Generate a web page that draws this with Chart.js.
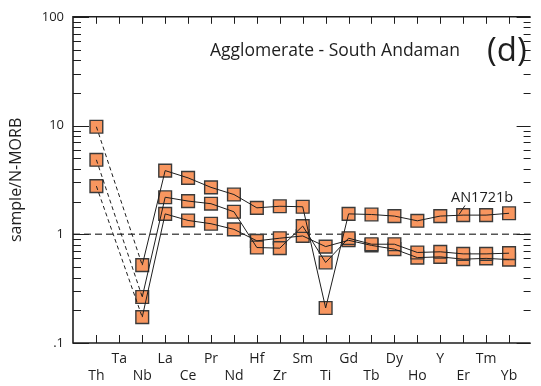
<!DOCTYPE html>
<html>
<head>
<meta charset="utf-8">
<title>Agglomerate - South Andaman</title>
<script src="https://cdn.jsdelivr.net/npm/chart.js@4.4.0/dist/chart.umd.min.js"></script>
<style>
    html, body { margin: 0; padding: 0; background: #fff; }
    #wrap { width: 541px; height: 386px; }
</style>
</head>
<body>
<div id="wrap"><canvas id="spider" width="541" height="386"></canvas></div>
<script>
// N-MORB normalised trace elements, in diagram order (Ta not analysed)
var elements = ['Th', 'Ta', 'Nb', 'La', 'Ce', 'Pr', 'Nd', 'Hf', 'Zr', 'Sm', 'Ti', 'Gd', 'Tb', 'Dy', 'Ho', 'Y', 'Er', 'Tm', 'Yb'];

var AN1721b = [9.75, null, 0.52, 3.85, 3.3, 2.7, 2.32, 1.75, 1.81, 1.79, 0.21, 1.54, 1.52, 1.47, 1.33, 1.47, 1.5, 1.5, 1.56];
var sampleB = [4.84, null, 0.265, 2.19, 2.02, 1.91, 1.61, 0.755, 0.745, 1.19, 0.55, 0.92, 0.81, 0.81, 0.68, 0.69, 0.66, 0.66, 0.67];
var sampleC = [2.77, null, 0.173, 1.54, 1.34, 1.25, 1.11, 0.87, 0.92, 0.965, 0.77, 0.88, 0.79, 0.73, 0.61, 0.62, 0.59, 0.6, 0.585];

var yTicks = [0.1, 1, 10, 100];
var yTickLabels = ['.1', '1', '10', '100'];

var FONT = '"Open Sans", "DejaVu Sans", sans-serif';
var INK = '#1e1e1e';

var series = [AN1721b, sampleB, sampleC];

function toPoints(vals) {
    return vals.map(function (v, i) {
        return { x: i, y: v };
    });
}

var datasets = [];
// connecting lines, drawn above the markers; the jump over the missing Ta is dashed
series.forEach(function (vals) {
    datasets.push({
        data: toPoints(vals),
        showLine: true,
        spanGaps: true,
        borderColor: INK,
        borderWidth: 1,
        pointRadius: 0,
        order: 0,
        segment: {
            borderDash: function (c) {
                return (c.p0.skip || c.p1.skip) ? [4, 3] : undefined;
            }
        }
    });
});
// square markers
series.forEach(function (vals) {
    datasets.push({
        data: toPoints(vals),
        showLine: false,
        pointStyle: 'rect',
        pointRadius: 9,
        pointHoverRadius: 9,
        backgroundColor: '#f8965f',
        borderColor: '#3a3a3a',
        borderWidth: 1.4,
        order: 1
    });
});

// frame, inward ticks, the y = 1 reference line and the captions
var framePlugin = {
    id: 'framePlugin',
    beforeDatasetsDraw: function (chart) {
        var a = chart.chartArea, ctx = chart.ctx;
        var y1 = chart.scales.y.getPixelForValue(1);
        ctx.save();
        ctx.strokeStyle = '#555';
        ctx.lineWidth = 1.3;
        ctx.setLineDash([7, 4]);
        ctx.beginPath();
        ctx.moveTo(a.left, y1);
        ctx.lineTo(a.right, y1);
        ctx.stroke();
        ctx.restore();
    },
    afterDraw: function (chart) {
        var a = chart.chartArea, ctx = chart.ctx;
        var xs = chart.scales.x, ys = chart.scales.y;
        ctx.save();
        ctx.strokeStyle = INK;

        // category ticks, top and bottom
        ctx.lineWidth = 1;
        ctx.beginPath();
        elements.forEach(function (e, i) {
            var px = Math.round(xs.getPixelForValue(i)) + 0.5;
            ctx.moveTo(px, a.top);
            ctx.lineTo(px, a.top + 7);
            ctx.moveTo(px, a.bottom);
            ctx.lineTo(px, a.bottom - 8);
        });
        ctx.stroke();

        // log ticks on the left and right edges
        ctx.beginPath();
        for (var d = -1; d <= 1; d++) {
            for (var m = 1; m <= 9; m++) {
                var v = m * Math.pow(10, d);
                var py = Math.round(ys.getPixelForValue(v)) + 0.5;
                var major = m === 1;
                ctx.moveTo(a.left, py);
                ctx.lineTo(a.left + (major ? 16 : 8), py);
                ctx.moveTo(a.right, py);
                ctx.lineTo(a.right - (major ? 14 : 7), py);
            }
        }
        var top = Math.round(ys.getPixelForValue(100)) + 0.5;
        ctx.moveTo(a.left, top);
        ctx.lineTo(a.left + 16, top);
        ctx.moveTo(a.right, top);
        ctx.lineTo(a.right - 14, top);
        ctx.stroke();

        // axis frame
        ctx.lineWidth = 1.6;
        ctx.beginPath();
        ctx.moveTo(a.right, a.top);
        ctx.lineTo(a.left, a.top);
        ctx.lineTo(a.left, a.bottom);
        ctx.lineTo(a.right, a.bottom);
        ctx.stroke();

        // captions
        ctx.fillStyle = INK;
        ctx.textBaseline = 'alphabetic';
        ctx.textAlign = 'left';
        ctx.font = '17.5px ' + FONT;
        ctx.fillText('Agglomerate - South Andaman', 210, 55.5);
        ctx.font = '33px ' + FONT;
        ctx.fillText('(d)', 487, 61);
        ctx.font = '14.5px ' + FONT;
        ctx.fillText('AN1721b', 451, 202);

        // leader to the AN1721b pattern
        ctx.lineWidth = 1;
        ctx.beginPath();
        ctx.moveTo(465, 205.5);
        ctx.lineTo(459, 214.5);
        ctx.stroke();
        ctx.restore();
    }
};

var ctx = document.getElementById('spider').getContext('2d');
var chart = new Chart(ctx, {
    type: 'scatter',
    data: { datasets: datasets },
    options: {
        responsive: false,
        animation: false,
        events: [],
        layout: { padding: { top: 15, right: 0, bottom: 0, left: 0 } },
        plugins: {
            legend: { display: false },
            tooltip: { enabled: false }
        },
        scales: {
            x: {
                type: 'linear',
                position: 'bottom',
                min: -1.02,
                max: 18.94,
                afterBuildTicks: function (s) {
                    s.ticks = elements.map(function (e, i) { return { value: i }; });
                },
                afterFit: function (s) { s.height = 43; },
                grid: { display: false, drawTicks: false },
                border: { display: false },
                ticks: {
                    autoSkip: false,
                    maxRotation: 0,
                    padding: 8,
                    color: INK,
                    font: { family: FONT, size: 14 },
                    callback: function (value) {
                        var name = elements[value];
                        // alternate names drop to a second row
                        return value % 2 ? name : ['', name];
                    }
                }
            },
            y: {
                type: 'logarithmic',
                min: 0.1,
                max: 100,
                afterBuildTicks: function (s) {
                    s.ticks = yTicks.map(function (v) { return { value: v }; });
                },
                afterFit: function (s) { s.width = 73; },
                grid: { display: false, drawTicks: false },
                border: { display: false },
                ticks: {
                    autoSkip: false,
                    padding: 9,
                    color: INK,
                    font: { family: FONT, size: 13 },
                    callback: function (value) {
                        return yTickLabels[yTicks.indexOf(value)];
                    }
                },
                title: {
                    display: true,
                    text: 'sample/N-MORB',
                    color: INK,
                    font: { family: FONT, size: 16 },
                    padding: { top: 7, bottom: 0 }
                }
            }
        }
    },
    plugins: [framePlugin]
});
</script>
</body>
</html>
